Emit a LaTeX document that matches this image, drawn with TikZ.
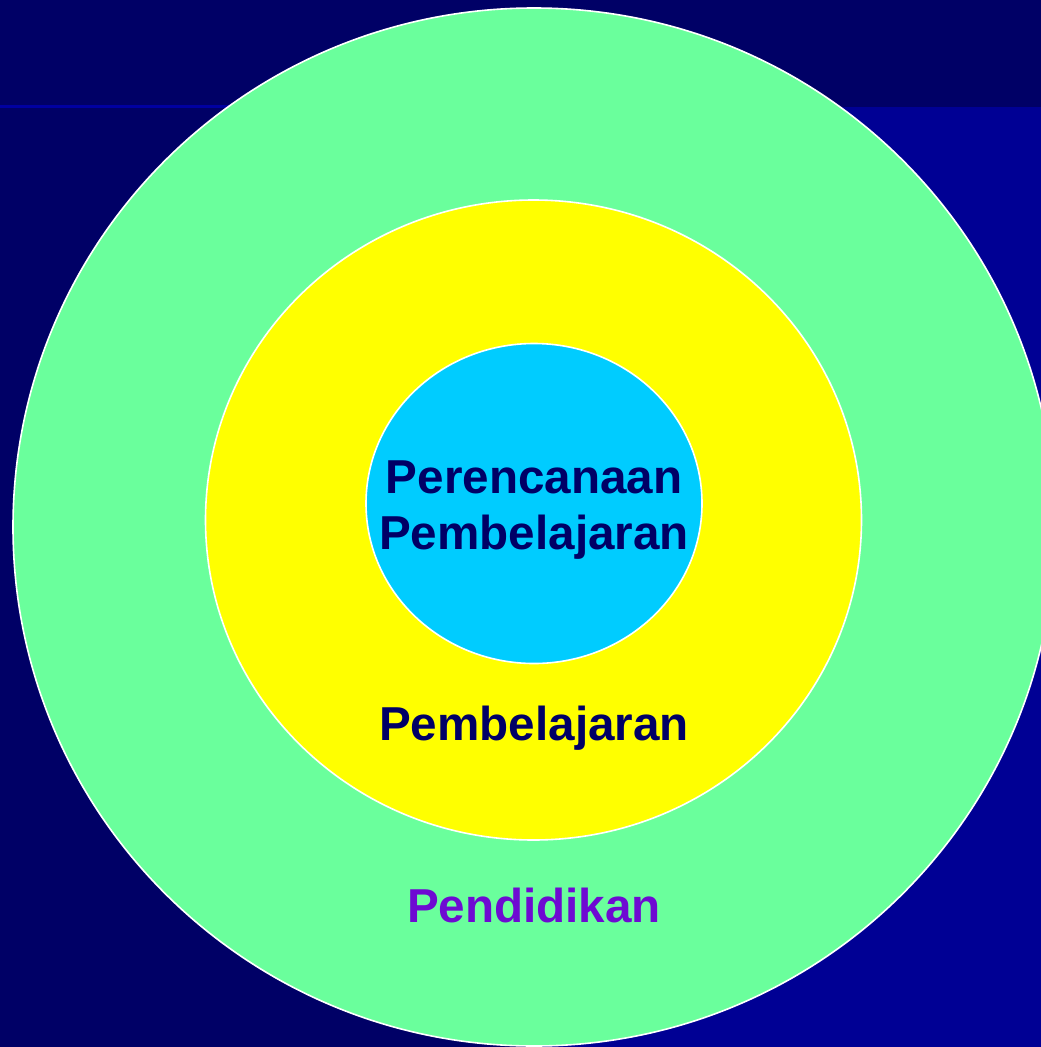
\documentclass[tikz,border=0pt]{standalone}
\usepackage{fontspec}
\usetikzlibrary{shapes.geometric}
\setmainfont{Liberation Sans}
\definecolor{navy}{RGB}{0,0,102}
\definecolor{brightblue}{RGB}{0,0,148}
\definecolor{linecol}{RGB}{0,0,160}
\definecolor{ringgreen}{RGB}{106,255,156}
\definecolor{ringyellow}{RGB}{255,255,0}
\definecolor{corecyan}{RGB}{0,204,255}
\definecolor{textnavy}{RGB}{0,0,102}
\definecolor{textpurple}{RGB}{110,10,210}
\tikzset{
  ring/.style={ellipse, draw=white, line width=1.6pt, inner sep=0pt, outer sep=0pt},
  lbl/.style={font=\fontsize{47.6}{56.5}\selectfont\bfseries, inner sep=0pt, align=center}
}
\begin{document}
\begin{tikzpicture}[x=1pt,y=-1pt]
\useasboundingbox (0,0) rectangle (1041,1047);
% background
\fill[navy] (0,0) rectangle (1041,1047);
\fill[brightblue] (535,107) rectangle (1041,1047);
\fill[linecol] (0,105) rectangle (535,108);
% rings
\node[ring, fill=ringgreen, minimum width=1042pt, minimum height=1038pt] (outer) at (534,527) {};
\node[ring, fill=ringyellow, minimum width=656pt, minimum height=640pt] (middle) at (533.5,520) {};
\node[ring, fill=corecyan, minimum width=336pt, minimum height=320pt] (inner) at (534,503.5) {};
% labels
\node[lbl, text=textnavy] (core) at (534,510) {Perencanaan\\Pembelajaran};
\node[lbl, text=textnavy, anchor=base] (mid) at (534,740) {Pembelajaran};
\node[lbl, text=textpurple, anchor=base] (out) at (534,922) {Pendidikan};
\end{tikzpicture}
\end{document}
